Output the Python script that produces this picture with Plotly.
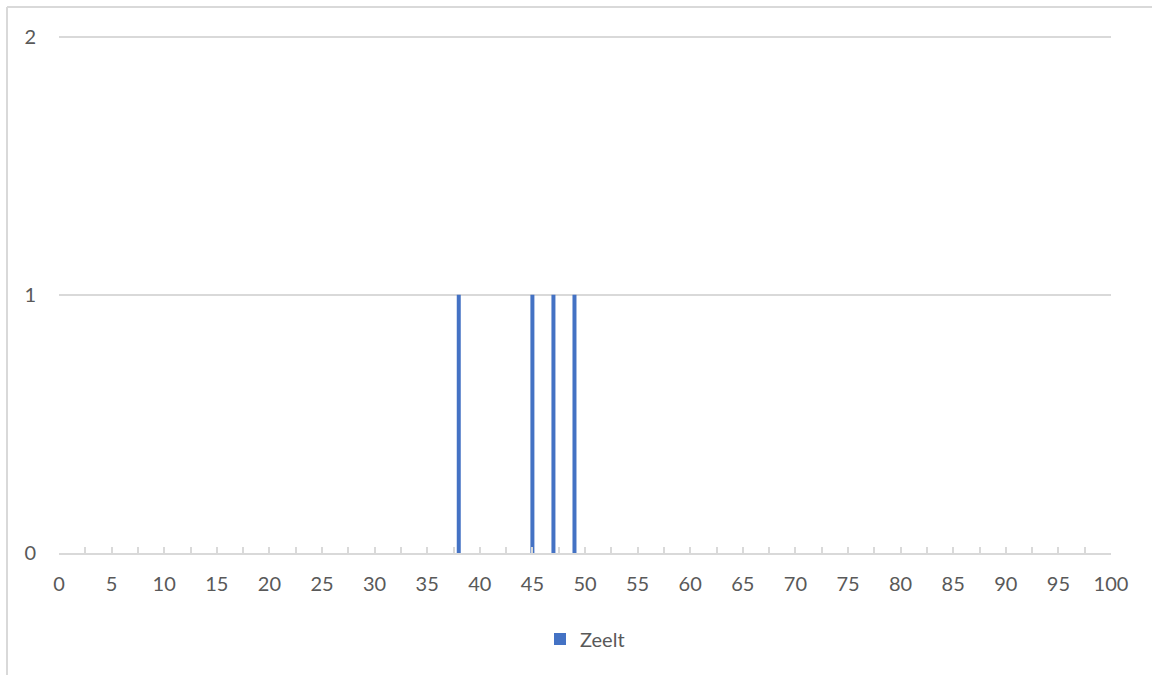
import plotly.graph_objects as go

# Data
lengths = [38, 45, 47, 49]
counts = [1, 1, 1, 1]
series_name = "Zeelt"
x_tick_values = list(range(0, 101, 5))
x_tick_labels = [str(v) for v in x_tick_values]
y_tick_values = [0, 1, 2]

fig = go.Figure()
fig.add_trace(go.Bar(
    x=lengths, y=counts, name=series_name,
    marker=dict(color="#4472C4", line=dict(width=0)),
    width=0.38,
    showlegend=True,
))

font_family = "Lato, 'Open Sans', sans-serif"
L, R, T, B = 59, 41, 35, 122
W, H = 1152, 675
pw, ph = W - L - R, H - T - B
bx = (7 - L) / pw
by = 1 + (T - 7) / ph
border = dict(color="#d9d9d9", width=2)
fig.update_layout(
    width=W, height=H,
    margin=dict(l=L, r=R, t=T, b=B),
    paper_bgcolor="white", plot_bgcolor="white",
    font=dict(family=font_family, size=20, color="#595959"),
    showlegend=True,
    legend=dict(orientation="h", x=0.5, xanchor="center", y=-0.166, yanchor="middle",
                font=dict(size=20, color="#595959"), itemwidth=30),
    xaxis=dict(
        range=[0, 100], tickvals=x_tick_values, ticktext=x_tick_labels,
        showgrid=False, zeroline=False,
        showline=True, linecolor="#d9d9d9", linewidth=1.5,
        ticks="inside", ticklen=6, tickcolor="#d9d9d9", tickwidth=1.5,
        minor=dict(ticks="inside", dtick=2.5, tick0=0, ticklen=6, tickcolor="#d9d9d9", tickwidth=1.5),
        ticklabelstandoff=12,
        fixedrange=True,
    ),
    yaxis=dict(
        range=[0, 2.006], tickvals=y_tick_values,
        showgrid=True, gridcolor="#d9d9d9", gridwidth=1.5,
        zeroline=False, showline=False, ticks="",
        ticklabelstandoff=22,
    ),
    shapes=[
        dict(type="line", xref="paper", yref="paper", x0=bx, x1=1.2, y0=by, y1=by,
             line=border, layer="below"),
        dict(type="line", xref="paper", yref="paper", x0=bx, x1=bx, y0=-0.4, y1=by,
             line=border, layer="below"),
    ],
)

fig.write_html(
    "out.html",
    config={"displayModeBar": False},
    post_script="document.body.style.margin='0';document.body.style.overflow='hidden';",
)
